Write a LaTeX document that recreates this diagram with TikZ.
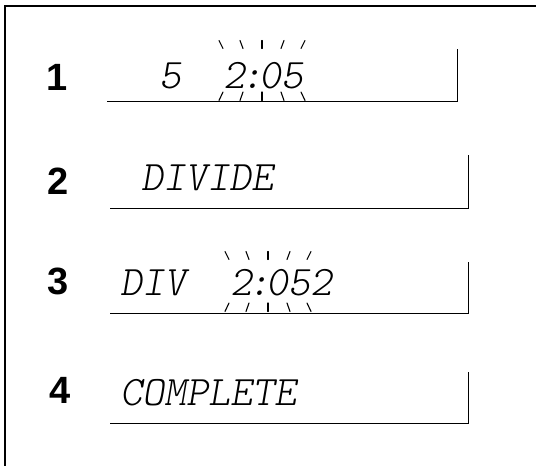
\documentclass[tikz,border=0pt]{standalone}
\usepackage{fontspec}
\newfontfamily\numfont{Liberation Sans}
\newfontfamily\lcdfont{lmmonolt10-oblique.otf}
\begin{document}
\begin{tikzpicture}[x=1pt,y=-1pt,num/.style={font=\numfont\bfseries\fontsize{38}{38}\selectfont,inner sep=0pt},lcd/.style={font=\lcdfont\fontsize{42}{42}\selectfont,inner sep=0pt,anchor=base west},lcdframe/.style={line width=1pt},ray/.style={line width=1.1pt,line cap=round},frame/.style={line width=2pt}]
 \useasboundingbox (0,0) rectangle (536,466);
 \draw[frame] (5,466)--(5,5.5)--(536,5.5);
 % step numbers
 \node[num] (n1) at (57,77) {1};
 \node[num] (n2) at (58,181) {2};
 \node[num] (n3) at (58,281) {3};
 \node[num] (n4) at (60,390) {4};
 % display panels
 \foreach \xl/\xr/\yb/\yt in {107/457/101/49,110/468/208/155,110/468/313/262,110/468/423/372}
  \draw[lcdframe] (\xl,\yb)--(\xr,\yb)--(\xr,\yt);
 % display texts
 \node[lcd] (t1a) at (159,88) {5};
 \node[lcd] (t1b) at (223,88) {2\kern-4pt:\kern-4pt05};
 \node[lcd] (t2) at (141,190) {DIVIDE};
 \node[lcd] (t3a) at (120,295) {DIV};
 \node[lcd] (t3b) at (230,295) {2\kern-4pt:\kern-4pt052};
 \node[lcd] (t4) at (120,405) {COMPLETE};
 % blinking marks
 \coordinate (c1) at (262,71.5); \coordinate (c3) at (268,282.5);
 \foreach \c in {c1,c3}
  \foreach \xa/\xb in {-43/-39,-22/-19,0/0,22/19,43/39}{
   \draw[ray] (\c) ++(\xa,-31) -- ++(\xb-\xa,8);
   \draw[ray] (\c) ++(\xb,20.5) -- ++(\xa-\xb,8.5);
  }
\end{tikzpicture}
\end{document}
